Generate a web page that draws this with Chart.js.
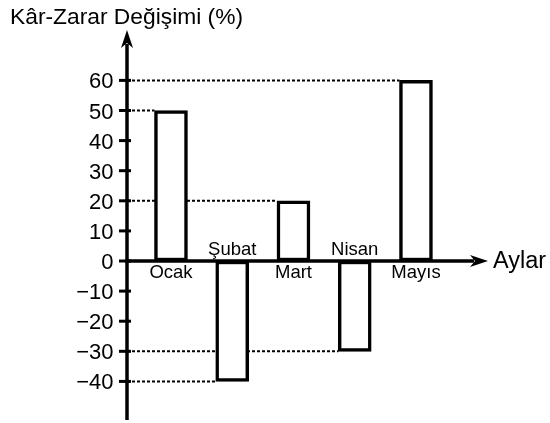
<!DOCTYPE html>
<html><head><meta charset="utf-8">
<script src="https://cdn.jsdelivr.net/npm/chart.js@4.4.0/dist/chart.umd.min.js"></script>
<style>html,body{margin:0;padding:0;background:#fff}#wrap{width:550px;height:423px}canvas{display:block}</style>
</head><body><div id="wrap"><canvas id="c" width="550" height="423"></canvas></div>
<script>
const categories = ['Ocak', 'Şubat', 'Mart', 'Nisan', 'Mayıs'];
const values = [50, -40, 20, -30, 60];
const yTicks = [60, 50, 40, 30, 20, 10, 0, -10, -20, -30, -40];
const yTitle = 'Kâr-Zarar Değişimi (%)';
const xTitle = 'Aylar';

const FONT = '"Liberation Sans", Arial, sans-serif';
const BAR_W = 33;
const fmt = v => v < 0 ? '\u2212' + Math.abs(v) : String(v);

function arrowHead(ctx, tx, ty, dir) {
  const L = 18, H = 6, N = 13;
  ctx.beginPath();
  if (dir === 'up') {
    ctx.moveTo(tx, ty);
    ctx.lineTo(tx - H, ty + L);
    ctx.lineTo(tx, ty + N);
    ctx.lineTo(tx + H, ty + L);
  } else {
    ctx.moveTo(tx, ty);
    ctx.lineTo(tx - L, ty - H);
    ctx.lineTo(tx - N, ty);
    ctx.lineTo(tx - L, ty + H);
  }
  ctx.closePath();
  ctx.fill();
}

const decor = {
  id: 'decor',
  beforeDatasetsDraw(chart) {
    const {ctx, chartArea: a, scales: {x, y}} = chart;
    ctx.save();
    ctx.strokeStyle = '#000';
    ctx.lineWidth = 2;
    ctx.setLineDash([3, 2]);
    values.forEach((v, i) => {
      const py = y.getPixelForValue(v);
      const x1 = x.getPixelForValue(i) - BAR_W / 2;
      ctx.beginPath();
      ctx.moveTo(a.left, py);
      ctx.lineTo(x1, py);
      ctx.stroke();
    });
    ctx.restore();
  },
  afterDatasetsDraw(chart) {
    const {ctx, chartArea: a, scales: {x, y}} = chart;
    const y0 = y.getPixelForValue(0);
    const ax = a.left;
    ctx.save();
    ctx.strokeStyle = '#000';
    ctx.fillStyle = '#000';
    ctx.lineWidth = 3.5;
    ctx.beginPath();
    ctx.moveTo(ax, a.bottom);
    ctx.lineTo(ax, a.top + 14);
    ctx.stroke();
    arrowHead(ctx, ax, a.top, 'up');
    ctx.beginPath();
    ctx.moveTo(ax - 2, y0);
    ctx.lineTo(a.right - 14, y0);
    ctx.stroke();
    arrowHead(ctx, a.right, y0, 'right');
    ctx.lineWidth = 3;
    yTicks.forEach(v => {
      const py = y.getPixelForValue(v);
      ctx.beginPath();
      ctx.moveTo(ax - 8, py);
      ctx.lineTo(ax + 4, py);
      ctx.stroke();
    });
    ctx.font = '18.5px ' + FONT;
    ctx.textAlign = 'center';
    ctx.textBaseline = 'alphabetic';
    categories.forEach((c, i) => {
      const px = x.getPixelForValue(i);
      if (values[i] >= 0) {
        ctx.fillText(c, px, y0 + 16.5);
      } else {
        ctx.fillText(c, px, y0 - 6);
      }
    });
    ctx.font = '23.5px ' + FONT;
    ctx.textAlign = 'left';
    ctx.fillText(xTitle, a.right + 5, y0 + 6.5);
    ctx.font = '22.8px ' + FONT;
    ctx.fillText(yTitle, 10, 23.5);
    ctx.restore();
  }
};

new Chart(document.getElementById('c'), {
  type: 'bar',
  data: {
    datasets: [{
      data: values.map((v, i) => ({x: i, y: v})),
      backgroundColor: '#fff',
      borderColor: '#000',
      borderWidth: 3.5,
      borderSkipped: false,
      barThickness: BAR_W
    }]
  },
  options: {
    responsive: false,
    animation: false,
    devicePixelRatio: 1,
    layout: {padding: {top: 30, bottom: 3, left: 0, right: 62}},
    plugins: {legend: {display: false}, tooltip: {enabled: false}, title: {display: false}},
    scales: {
      x: {
        type: 'linear',
        display: false,
        offset: false,
        min: -0.718,
        max: 5.176
      },
      y: {
        type: 'linear',
        min: -52.82,
        max: 76.74,
        border: {display: false},
        grid: {display: false, drawTicks: false},
        afterBuildTicks(s) { s.ticks = yTicks.slice().reverse().map(v => ({value: v})); },
        afterFit(s) { s.width = 127; s.paddingTop = 0; s.paddingBottom = 0; },
        ticks: {
          padding: 13.5,
          labelOffset: 2,
          color: '#000',
          font: {family: FONT, size: 22},
          callback: v => fmt(v)
        }
      }
    }
  },
  plugins: [decor]
});
</script>
</body></html>
